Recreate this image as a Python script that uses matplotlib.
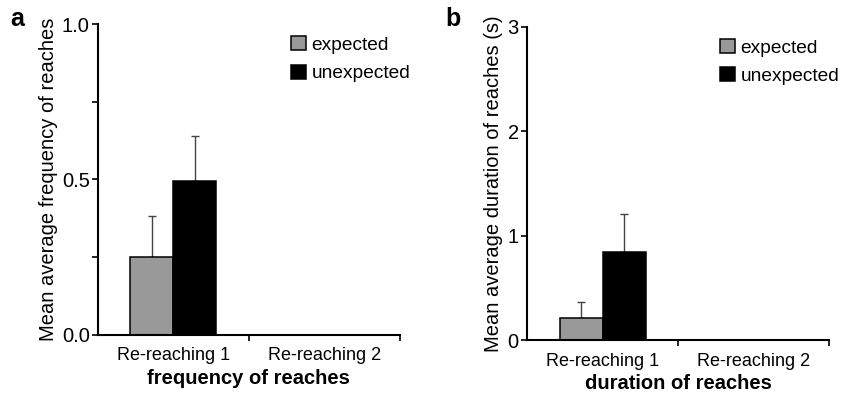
import matplotlib.pyplot as plt
import numpy as np

plt.rcParams['font.family'] = ['Liberation Sans', 'DejaVu Sans']

categories = ['Re-reaching 1', 'Re-reaching 2']
series = ['expected', 'unexpected']

freq_expected = [0.25, 0.0]
freq_unexpected = [0.495, 0.0]
freq_expected_err = [0.133, 0.0]
freq_unexpected_err = [0.145, 0.0]

dur_expected = [0.21, 0.0]
dur_unexpected = [0.84, 0.0]
dur_expected_err = [0.15, 0.0]
dur_unexpected_err = [0.37, 0.0]

colors = ['#999999', '#000000']


def draw_panel(ax, exp, unexp, exp_err, unexp_err, ylim, major, minor, ylabel, xlabel, fmt):
    x = np.arange(len(categories))
    w = 0.285
    for off, vals, errs, c, lab in [(-w / 2, exp, exp_err, colors[0], series[0]),
                                    (w / 2, unexp, unexp_err, colors[1], series[1])]:
        shown = [v > 0 for v in vals]
        xs = x[shown] + off
        vs = np.array(vals)[shown]
        es = np.array(errs)[shown]
        ax.bar(xs, vs, w, color=c, edgecolor='black', linewidth=1.1, label=lab, zorder=2)
        ax.errorbar(xs, vs, yerr=[np.zeros_like(es), es], fmt='none', ecolor='#444444',
                    elinewidth=1.0, capsize=3, capthick=1.0, zorder=1)
    ax.set_xlim(-0.5, 1.5)
    ax.set_ylim(*ylim)
    ax.set_yticks(major)
    ax.set_yticklabels([fmt.format(v) for v in major])
    ax.set_yticks(minor, minor=True)
    ax.set_xticks(x)
    ax.set_xticklabels(categories, fontsize=13)
    ax.set_xticks([0.5, 1.5], minor=True)
    ax.tick_params(axis='x', which='major', length=0, pad=9)
    ax.tick_params(axis='x', which='minor', length=4, width=1.2, direction='out')
    ax.tick_params(axis='y', which='both', length=4, width=1.2, direction='out', labelsize=14.5, pad=2)
    for s in ['top', 'right']:
        ax.spines[s].set_visible(False)
    for s in ['left', 'bottom']:
        ax.spines[s].set_linewidth(1.5)
    ax.set_ylabel(ylabel, fontsize=14.5, labelpad=3)
    ax.set_xlabel(xlabel, fontsize=14.5, fontweight='bold', labelpad=3)
    ax.legend(loc='upper left', bbox_to_anchor=(0.615, 0.985), frameon=False, fontsize=13.8,
              handlelength=0.75, handleheight=0.75, handletextpad=0.3, labelspacing=0.55,
              borderaxespad=0)


fig = plt.figure(figsize=(8.41, 3.94), dpi=100)
ax1 = fig.add_axes([0.1165, 0.150, 0.359, 0.789])
ax2 = fig.add_axes([0.6267, 0.137, 0.359, 0.795])

draw_panel(ax1, freq_expected, freq_unexpected, freq_expected_err, freq_unexpected_err,
           (0, 1.0), [0.0, 0.5, 1.0], [0.25, 0.75],
           'Mean average frequency of reaches', 'frequency of reaches', '{:.1f}')
draw_panel(ax2, dur_expected, dur_unexpected, dur_expected_err, dur_unexpected_err,
           (0, 3), [0, 1, 2, 3], [],
           'Mean average duration of reaches (s)', 'duration of reaches', '{:.0f}')

fig.text(0.012, 0.952, 'a', fontsize=18, fontweight='bold', va='center')
fig.text(0.530, 0.952, 'b', fontsize=18, fontweight='bold', va='center')

fig.savefig('out.png', dpi=100)
